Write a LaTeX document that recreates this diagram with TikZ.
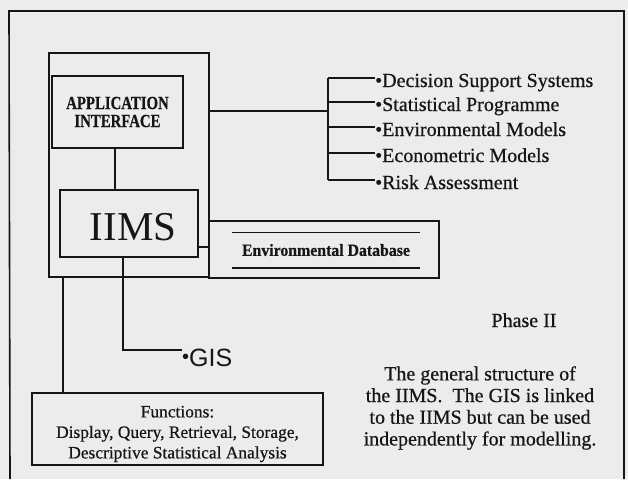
\documentclass[tikz,border=0pt]{standalone}
\usepackage{graphicx}
\usepackage{fontspec}
\setmainfont{Liberation Serif}[FakeBold=0.6]
\newfontfamily\thinserif{Liberation Serif}
\newfontfamily\gisfont{Liberation Sans}
\definecolor{paper}{RGB}{236,236,236}
\definecolor{ink}{RGB}{22,22,22}
\newcommand\listbul{{\fontsize{20}{20}\selectfont •}}
\newcommand\gisbul{\raisebox{0.12em}{\fontsize{20}{20}\selectfont •}}
\newcommand\narrowcap[1]{\scalebox{0.8}[1]{#1}}
\begin{document}
\begin{tikzpicture}[x=1pt,y=-1pt]
\tikzset{
  box/.style={draw=ink, line width=1.6pt, rectangle, inner sep=0pt},
  conn/.style={draw=ink, line width=1.6pt},
  listtxt/.style={anchor=base west, inner sep=0pt, text=ink, font=\fontsize{20}{24}\selectfont},
  plain/.style={inner sep=0pt, text=ink, align=center}
}
\useasboundingbox (0,0) rectangle (628,479);
\fill[paper] (0,0) rectangle (628,479);
% outer frame (open at the bottom edge of the picture)
\draw[conn] (10,479) -- (9,11) -- (624,11) -- (624,479);

% boxes
\node[box, minimum width=160pt, minimum height=224pt] (container) at (129,165) {};
\node[box, minimum width=131pt, minimum height=72pt, plain,
      font=\bfseries\fontsize{18.5}{18}\selectfont] (app) at (117.5,112) {\narrowcap{APPLICATION}\\\narrowcap{INTERFACE}};
\node[box, minimum width=138pt, minimum height=67pt] (iims) at (129,223.5) {};
\node[plain, font=\thinserif\fontsize{41}{41}\selectfont] (iimstxt) at (133,227.5) {IIMS};
\node[box, minimum width=230pt, minimum height=57pt] (envout) at (324,249.5) {};
\node[plain, minimum width=188pt, minimum height=35pt,
      font=\bfseries\fontsize{17}{18}\selectfont] (envdb) at (326,250) {\scalebox{0.93}[1]{Environmental Database}};
\draw[conn] (envdb.north west) -- (envdb.north east);
\draw[conn] (envdb.south west) -- (envdb.south east);
\node[box, minimum width=291pt, minimum height=72pt] (functions) at (177.5,429) {};
\node[plain, font=\fontsize{17.4}{20.5}\selectfont] (functxt) at (177.5,434) {Functions:\\Display, Query, Retrieval, Storage,\\Descriptive Statistical Analysis};

% list of models
\node[listtxt] (d1) at (375,87) {\listbul Decision Support Systems};
\node[listtxt] (d2) at (375,111) {\listbul Statistical Programme};
\node[listtxt] (d3) at (375,136) {\listbul Environmental Models};
\node[listtxt] (d4) at (375,162) {\listbul Econometric Models};
\node[listtxt] (d5) at (375,189) {\listbul Risk Assessment};
\coordinate (b1) at (328,78);
\coordinate (b2) at (328,102);
\coordinate (b3) at (328,127);
\coordinate (b4) at (328,153);
\coordinate (b5) at (328,180);
\coordinate (bm) at (328,111);
\draw[conn] (container.east |- bm) -- (bm);
\draw[conn] (b1) -- (b5);
\foreach \i in {1,...,5} { \draw[conn] (b\i) -- (d\i.base west |- b\i); }

% GIS
\node[anchor=base west, inner sep=0pt, text=ink, font=\gisfont\fontsize{25}{25}\selectfont] (gis) at (182,366) {\gisbul GIS};
\coordinate (gisturn) at (123,350);
\draw[conn] (iims.south -| gisturn) -- (gisturn) -- (gis.base west |- gisturn);

% other connectors
\coordinate (ax) at (115,0);
\draw[conn] (app.south -| ax) -- (iims.north -| ax);
\coordinate (dbl) at (0,247);
\draw[conn] (iims.east |- dbl) -- (envout.west |- dbl);
\coordinate (fx) at (63,0);
\draw[conn] (container.south -| fx) -- (functions.north -| fx);

% captions
\node[plain, anchor=base, font=\fontsize{20}{24}\selectfont] (phase) at (524,327) {Phase II};
\node[plain, font=\fontsize{20}{21.7}\selectfont] (caption) at (480,408) {The general structure of\\the IIMS.\ \ The GIS is linked\\to the IIMS but can be used\\independently for modelling.};
\end{tikzpicture}
\end{document}
